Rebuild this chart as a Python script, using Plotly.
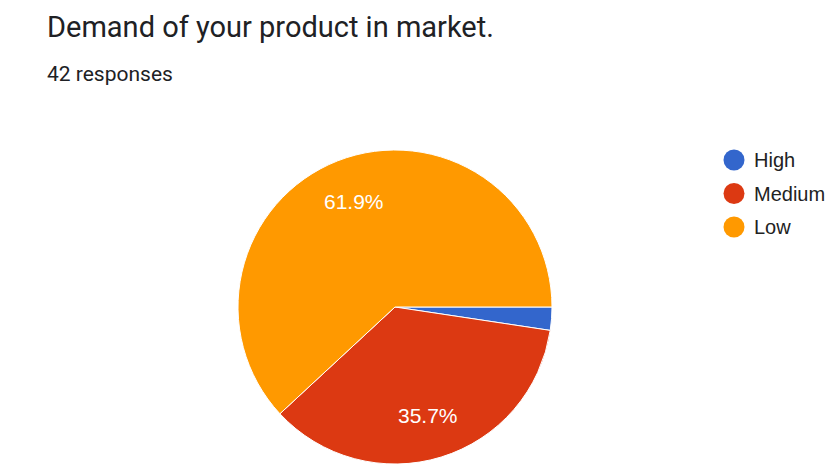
import math
import plotly.graph_objects as go

# Datos de la encuesta (42 respuestas)
etiquetas = ['High', 'Medium', 'Low']
respuestas = [1, 15, 26]
colores = ['#3366cc', '#dc3912', '#ff9900']

titulo = 'Demand of your product in market.'
subtitulo = '42 responses'

W, H = 830, 464

# Posicion del pastel (pixeles de la captura)
cx, cy, r = 395, 307, 157
TOP = cy - r
BOTTOM = max(0, H - (cy + r))
plot_h = H - TOP - BOTTOM


def px(x):
    return x / W


def py(y):
    # pixel vertical -> coordenada paper
    return (H - BOTTOM - y) / plot_h


fig = go.Figure(go.Pie(
    labels=etiquetas,
    values=respuestas,
    marker=dict(colors=colores, line=dict(color='white', width=1)),
    sort=False,
    direction='clockwise',
    rotation=90,
    textinfo='none',
    hoverinfo='label+percent',
    showlegend=False,
    domain=dict(x=[px(cx - r), px(cx + r)], y=[0, 1]),
))

shapes = []
annotations = [
    dict(text=titulo, x=px(45), y=py(27), xref='paper', yref='paper',
         xanchor='left', yanchor='middle', showarrow=False,
         font=dict(family='Roboto', size=29, color='#202124')),
    dict(text=subtitulo, x=px(45), y=py(74), xref='paper', yref='paper',
         xanchor='left', yanchor='middle', showarrow=False,
         font=dict(family='Roboto', size=21, color='#202124')),
]

# Porcentajes dentro de las rebanadas (solo las grandes)
total = sum(respuestas)
acum = 0
for v in respuestas:
    frac = v / total
    mid = (acum + frac / 2) * 2 * math.pi  # horario desde las 3 en punto
    acum += frac
    if frac < 0.05:
        continue
    dx = 0.72 * r * math.cos(mid)
    dy = 0.72 * r * math.sin(mid)
    annotations.append(dict(text=f'{frac * 100:.1f}%', x=px(cx + dx), y=py(cy + dy),
                            xref='paper', yref='paper', showarrow=False,
                            xanchor='center', yanchor='middle',
                            font=dict(family='Arial, Liberation Sans', size=21, color='white')))

# Leyenda a la derecha (circulos + texto)
for i, (lab, col) in enumerate(zip(etiquetas, colores)):
    yy = py(160 + i * 33.5)
    shapes.append(dict(type='circle', xref='paper', yref='paper',
                       xsizemode='pixel', ysizemode='pixel',
                       xanchor=px(734), yanchor=yy,
                       x0=-10.5, x1=10.5, y0=-10.5, y1=10.5,
                       fillcolor=col, line=dict(width=0)))
    annotations.append(dict(text=lab, x=px(752), y=yy, xref='paper', yref='paper',
                            xanchor='left', yanchor='middle', showarrow=False,
                            font=dict(family='Arial, Liberation Sans', size=20, color='#222222')))

fig.update_layout(
    width=W, height=H,
    margin=dict(l=0, r=0, t=TOP, b=BOTTOM),
    paper_bgcolor='white',
    plot_bgcolor='white',
    shapes=shapes,
    annotations=annotations,
)

# quitar el margen por defecto del body para que la figura llene la ventana
fig.write_html('out.html', config=dict(displayModeBar=False),
               post_script="document.body.style.margin='0';")
